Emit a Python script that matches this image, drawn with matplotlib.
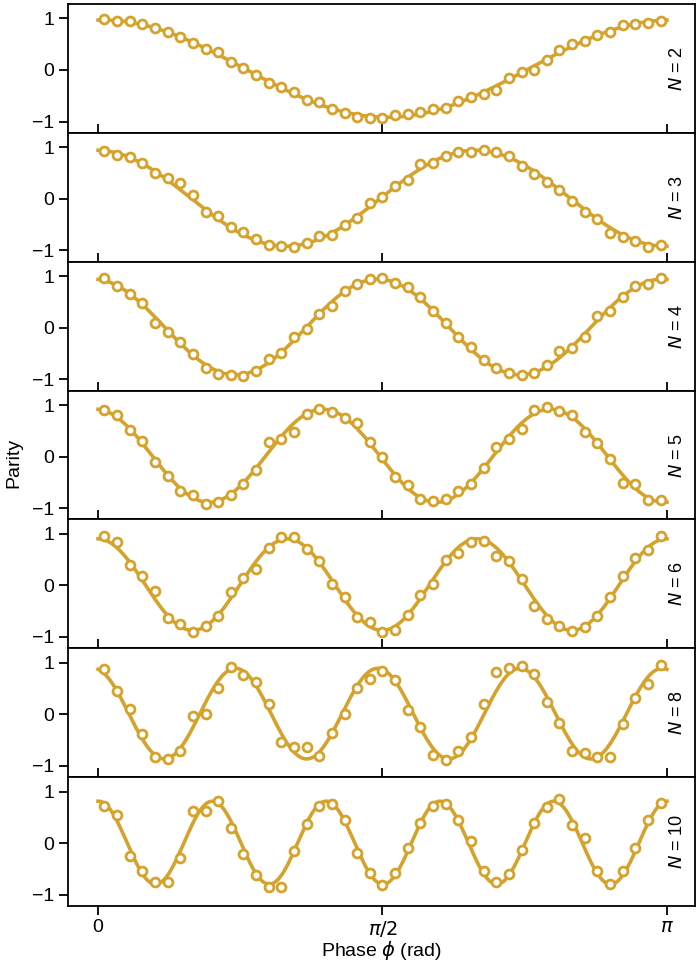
import numpy as np
import matplotlib.pyplot as plt

plt.switch_backend('agg')
plt.rcParams['font.family'] = ['Liberation Sans', 'DejaVu Sans']
plt.rcParams['mathtext.fontset'] = 'dejavusans'

# photon numbers, one panel each
n_values = [2, 3, 4, 5, 6, 8, 10]

# parity, 45 phase steps from 0 to pi
parity_n2 = [0.98, 0.95, 0.95, 0.89, 0.81, 0.74, 0.64, 0.52, 0.41, 0.34,
             0.16, 0.03, -0.10, -0.26, -0.34, -0.43, -0.58, -0.63, -0.76, -0.84,
             -0.91, -0.94, -0.93, -0.87, -0.86, -0.82, -0.76, -0.74, -0.60, -0.52,
             -0.47, -0.39, -0.16, -0.03, 0.00, 0.19, 0.39, 0.50, 0.57, 0.68,
             0.74, 0.87, 0.89, 0.91, 0.95]
parity_n3 = [0.92, 0.86, 0.82, 0.70, 0.50, 0.40, 0.30, 0.07, -0.26, -0.33,
             -0.54, -0.64, -0.77, -0.89, -0.92, -0.94, -0.85, -0.73, -0.71, -0.50,
             -0.38, -0.09, 0.03, 0.24, 0.37, 0.67, 0.70, 0.83, 0.91, 0.91,
             0.94, 0.90, 0.83, 0.64, 0.49, 0.32, 0.18, -0.04, -0.25, -0.40,
             -0.66, -0.74, -0.81, -0.93, -0.90]
parity_n4 = [0.96, 0.81, 0.66, 0.47, 0.10, -0.08, -0.28, -0.51, -0.78, -0.89,
             -0.92, -0.94, -0.84, -0.61, -0.50, -0.19, -0.02, 0.27, 0.42, 0.71,
             0.84, 0.94, 0.97, 0.87, 0.78, 0.59, 0.33, 0.09, -0.18, -0.38,
             -0.62, -0.78, -0.87, -0.92, -0.87, -0.73, -0.46, -0.40, -0.18, 0.22,
             0.32, 0.60, 0.81, 0.85, 0.97]
parity_n5 = [0.90, 0.80, 0.51, 0.31, -0.11, -0.37, -0.67, -0.75, -0.92, -0.88,
             -0.75, -0.53, -0.26, 0.28, 0.35, 0.47, 0.82, 0.92, 0.87, 0.74,
             0.66, 0.28, -0.01, -0.40, -0.56, -0.83, -0.87, -0.83, -0.67, -0.54,
             -0.22, 0.18, 0.35, 0.54, 0.90, 0.97, 0.88, 0.80, 0.48, 0.26,
             -0.04, -0.51, -0.53, -0.85, -0.85]
parity_n6 = [0.95, 0.84, 0.39, 0.18, -0.11, -0.64, -0.74, -0.91, -0.79, -0.59,
             -0.13, 0.15, 0.32, 0.72, 0.93, 0.94, 0.71, 0.47, 0.03, -0.22,
             -0.62, -0.71, -0.91, -0.86, -0.57, -0.19, 0.03, 0.50, 0.63, 0.85,
             0.87, 0.58, 0.47, 0.13, -0.40, -0.65, -0.78, -0.89, -0.80, -0.59,
             -0.23, 0.18, 0.53, 0.69, 0.95]
parity_n8 = [0.87, 0.45, 0.11, -0.38, -0.83, -0.87, -0.72, -0.04, 0.00, 0.50,
             0.91, 0.77, 0.62, 0.19, -0.53, -0.64, -0.63, -0.81, -0.37, 0.00,
             0.50, 0.69, 0.83, 0.67, 0.08, -0.24, -0.80, -0.88, -0.72, -0.45,
             0.19, 0.82, 0.90, 0.94, 0.79, 0.24, -0.16, -0.72, -0.76, -0.82,
             -0.82, -0.19, 0.32, 0.58, 0.96]
parity_n10 = [0.72, 0.55, -0.25, -0.55, -0.75, -0.75, -0.28, 0.62, 0.62,
              0.82, 0.30, -0.22, -0.62, -0.86, -0.85, -0.15, 0.38, 0.72,
              0.76, 0.45, -0.20, -0.58, -0.82, -0.58, -0.10, 0.40, 0.72,
              0.76, 0.45, 0.05, -0.55, -0.75, -0.60, -0.14, 0.40, 0.70,
              0.85, 0.35, 0.10, -0.55, -0.80, -0.55, -0.10, 0.45, 0.78]
parity_data = [parity_n2, parity_n3, parity_n4, parity_n5,
               parity_n6, parity_n8, parity_n10]

n_steps = 45
phase = (np.arange(n_steps) + 0.5) * np.pi / n_steps
phase_fine = np.linspace(0, np.pi, 600)

gold = '#D5A22C'

fig, axes = plt.subplots(len(n_values), 1, figsize=(7, 9.64), dpi=100, sharex=True)
fig.subplots_adjust(left=68 / 700, right=695 / 700, top=1 - 4 / 964,
                    bottom=1 - 906 / 964, hspace=0)

for ax, n, par in zip(axes, n_values, parity_data):
    par = np.asarray(par)
    # least squares fit of a sinusoid with N-fold frequency
    basis = np.column_stack([np.cos(n * phase), np.sin(n * phase), np.ones_like(phase)])
    coef, *_ = np.linalg.lstsq(basis, par, rcond=None)
    fit = coef[0] * np.cos(n * phase_fine) + coef[1] * np.sin(n * phase_fine) + coef[2]

    ax.plot(phase_fine, fit, color=gold, lw=2.6, zorder=2)
    ax.plot(phase, par, 'o', ms=6.4, mew=2.0, mfc='white', mec=gold, zorder=3)

    ax.set_ylim(-1.22, 1.28)
    ax.set_yticks([-1, 0, 1])
    ax.set_yticklabels(['\u22121', '0', '1'])
    ax.set_xlim(-0.166, np.pi + 0.155)
    ax.text(0.985, 0.5, '$N$ = %d' % n, transform=ax.transAxes, rotation=90,
            ha='right', va='center', fontsize=13)
    ax.tick_params(axis='both', labelsize=14, width=1.3, length=6.5)
    ax.tick_params(axis='x', direction='in')
    for s in ax.spines.values():
        s.set_linewidth(1.3)

axes[-1].set_xticks([0, np.pi / 2, np.pi])
axes[-1].set_xticklabels(['0', r'$\pi/2$', r'$\pi$'])
axes[-1].tick_params(axis='x', direction='out', pad=3)
axes[-1].set_xlabel(r'Phase $\phi$ (rad)', fontsize=14, labelpad=0)
fig.text(14 / 700, 1 - 463 / 964, 'Parity', rotation=90, ha='center', va='center',
         fontsize=14)

fig.savefig('out.png', dpi=100)
